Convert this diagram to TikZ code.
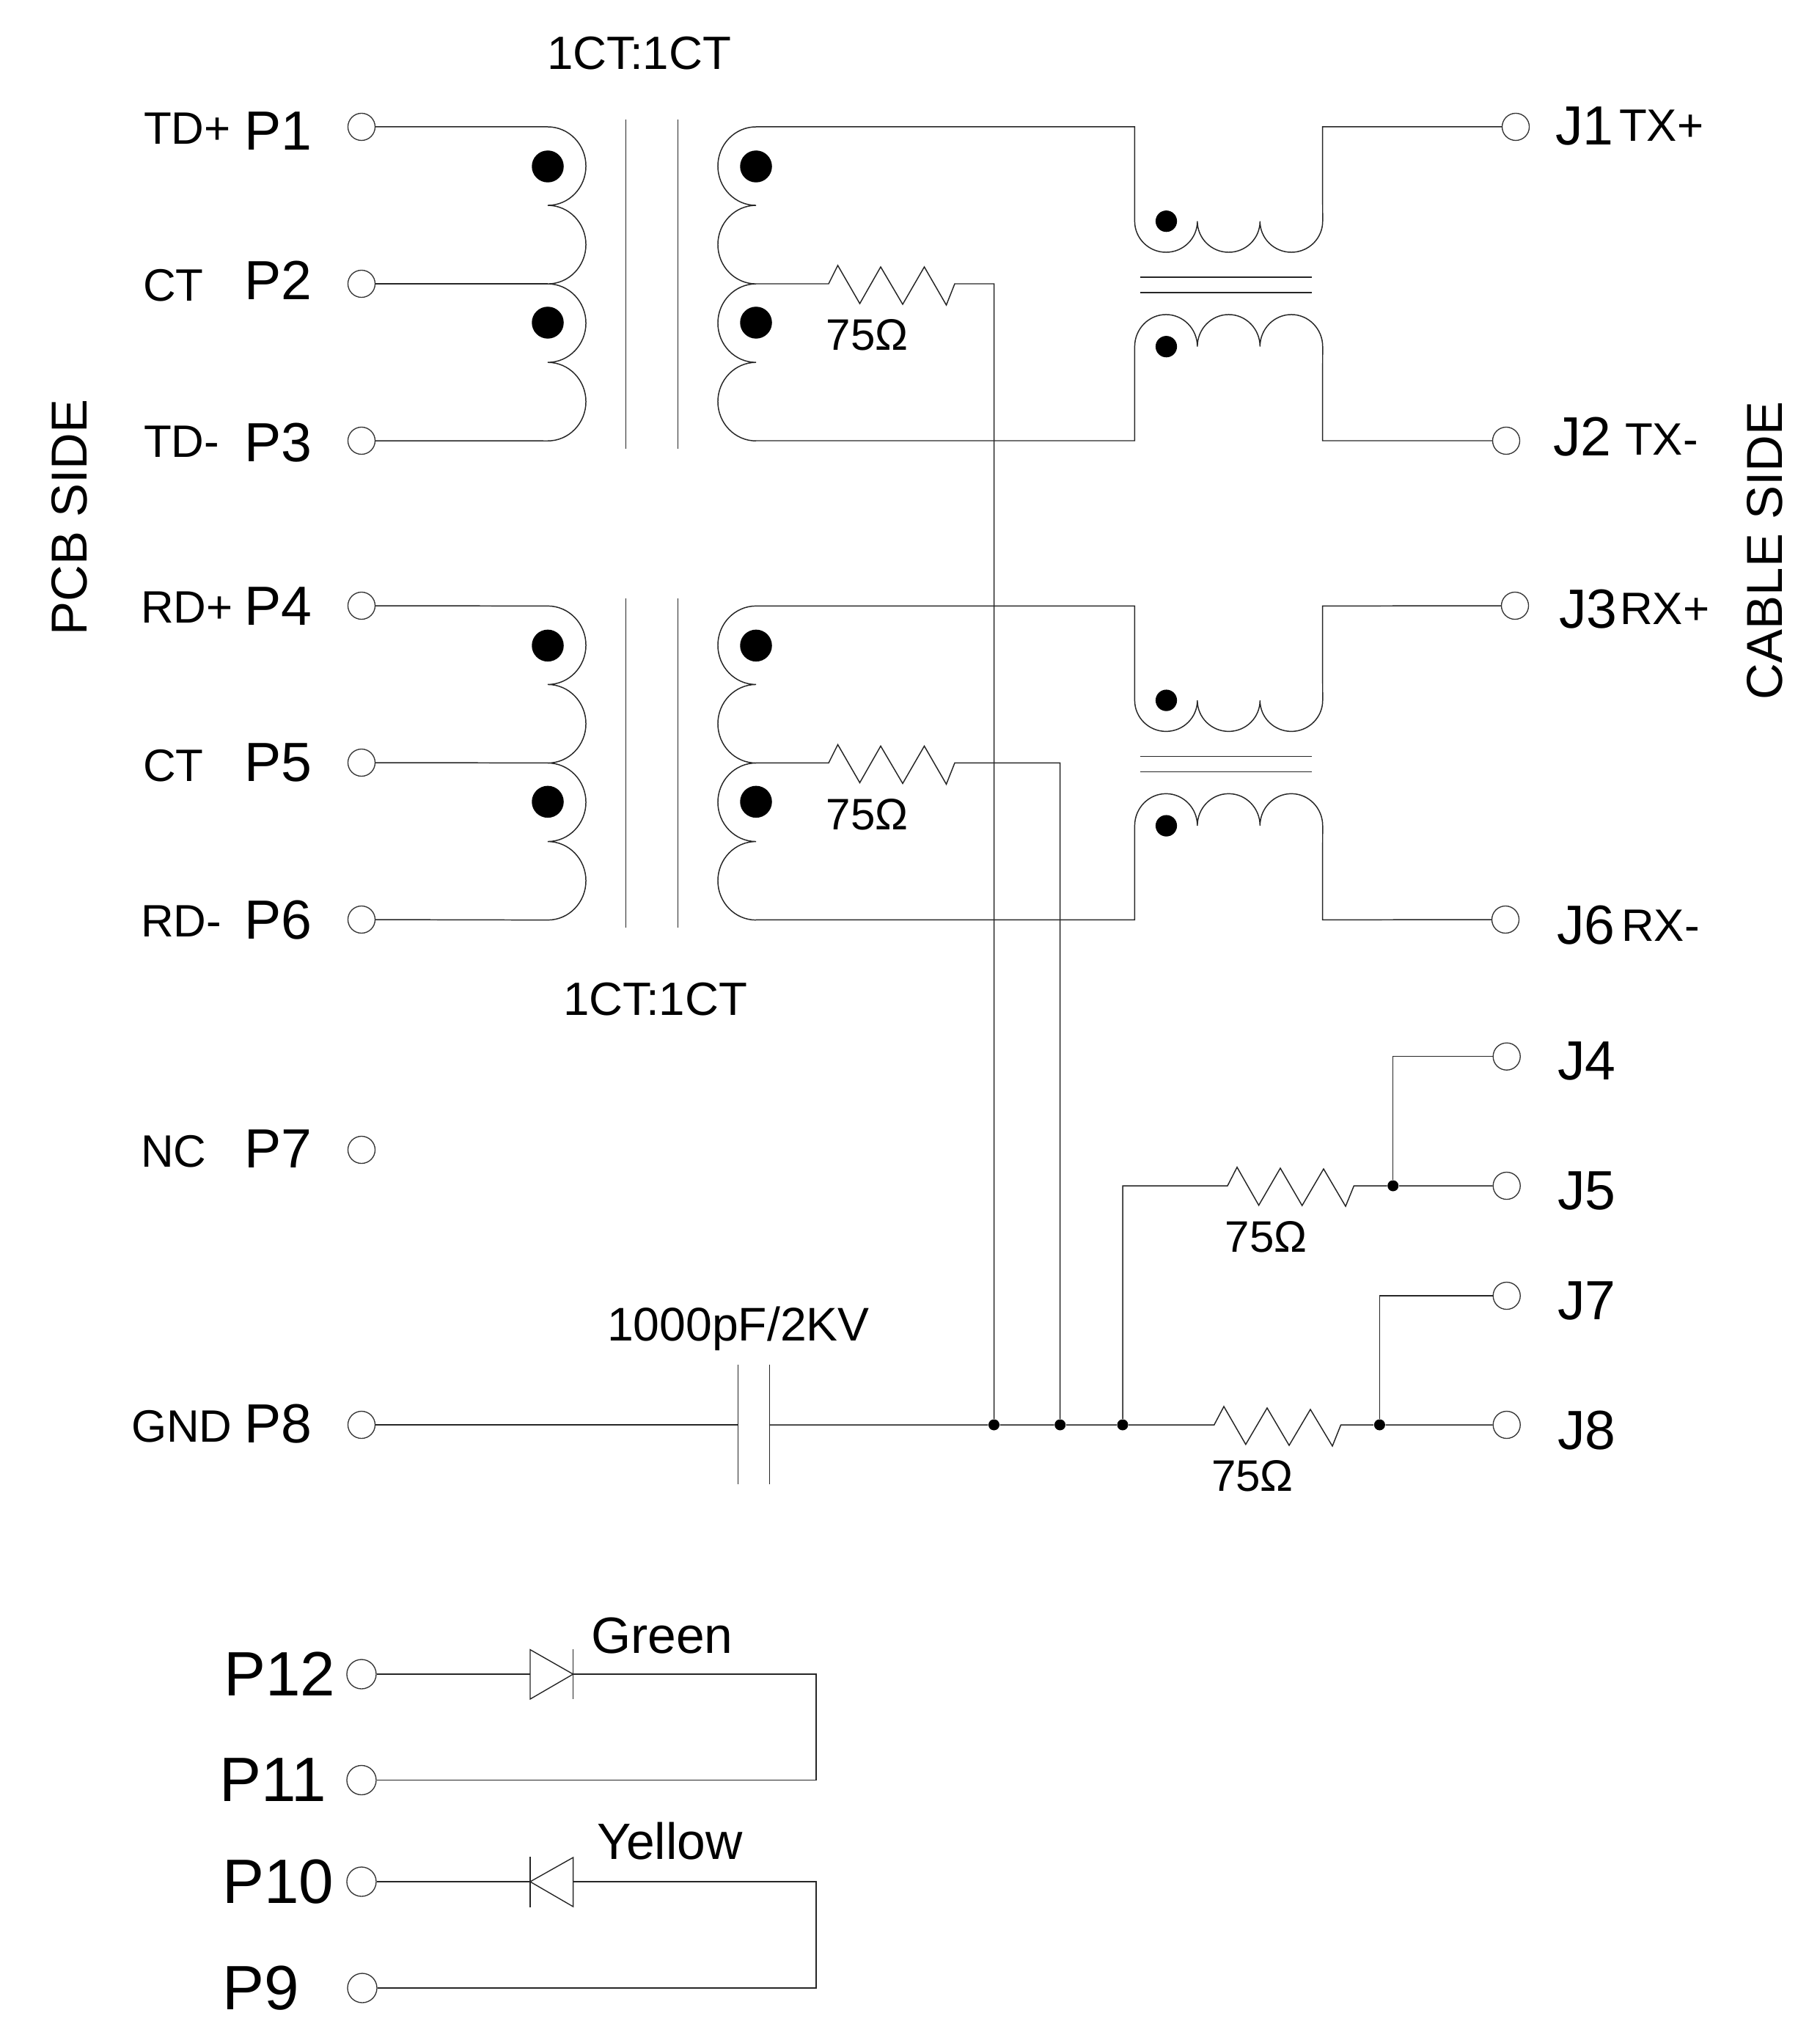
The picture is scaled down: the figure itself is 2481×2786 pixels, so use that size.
\documentclass[tikz,border=0pt]{standalone}
\usepackage{fontspec}
\setmainfont{Liberation Sans}
\tikzset{
  wire/.style={line width=0.42pt,black!85,line join=miter},
  thinline/.style={line width=0.4pt,black!85},
  term/.style={draw=black!80,circle,line width=0.38pt,inner sep=0pt,minimum size=0.37cm,fill=white},
  termb/.style={term,minimum size=0.40cm},
  junc/.style={circle,fill=black,inner sep=0pt,minimum size=0.15cm},
  coredot/.style={circle,fill=black,inner sep=0pt,minimum size=0.435cm},
  chokedot/.style={circle,fill=black,inner sep=0pt,minimum size=0.292cm},
  txt/.style={inner sep=0pt,outer sep=0pt,anchor=base west,text=black},
  lab/.style={txt,font=\fontsize{17.6pt}{20pt}\selectfont},
  xf/.style={txt,font=\fontsize{18.1pt}{21pt}\selectfont},
  pin/.style={txt,font=\fontsize{21.4pt}{24pt}\selectfont},
  bigpin/.style={txt,font=\fontsize{24.3pt}{28pt}\selectfont},
  val/.style={txt,anchor=base,font=\fontsize{17.1pt}{19pt}\selectfont},
  capval/.style={txt,font=\fontsize{18.3pt}{21pt}\selectfont},
  led/.style={txt,font=\fontsize{19.8pt}{22pt}\selectfont},
  side/.style={txt,rotate=90,font=\fontsize{19.6pt}{22pt}\selectfont},
}
% #1 prefix, #2 yshift, #3 #4 #5 primary terminals, #6 #7 cable terminals, #8 junction
\newcommand{\magblock}[8]{%
\begin{scope}[yshift=#2]
  \coordinate (#1la) at (746,173);
  \coordinate (#1lc) at (746,387);
  \coordinate (#1lb) at (746,601);
  \coordinate (#1ra) at (1030,173);
  \coordinate (#1rc) at (1030,387);
  \coordinate (#1rb) at (1030,601);
  \coordinate (#1ua) at (1546.4,173);
  \coordinate (#1us) at (1546.4,301.7);
  \coordinate (#1ue) at (1802.5,301.7);
  \coordinate (#1uf) at (1802.5,173);
  \coordinate (#1da) at (1546.4,601);
  \coordinate (#1ds) at (1546.4,472.7);
  \coordinate (#1de) at (1802.5,472.7);
  \coordinate (#1df) at (1802.5,601);
  % primary winding
  \draw[wire] (#3) -- (#1la)
    arc[start angle=90,end angle=-90,x radius=0.52cm,y radius=0.535cm]
    arc[start angle=90,end angle=-90,x radius=0.52cm,y radius=0.535cm]
    arc[start angle=90,end angle=-90,x radius=0.52cm,y radius=0.535cm]
    arc[start angle=90,end angle=-90,x radius=0.52cm,y radius=0.535cm]
    -- (#5);
  \draw[wire] (#4) -- (#1lc);
  % core
  \draw[thinline] (852.6,163) -- (852.6,612);
  \draw[thinline] (923.4,163) -- (923.4,612);
  % secondary winding
  \draw[wire] (#1ra)
    arc[start angle=90,end angle=270,x radius=0.52cm,y radius=0.535cm]
    arc[start angle=90,end angle=270,x radius=0.52cm,y radius=0.535cm]
    arc[start angle=90,end angle=270,x radius=0.52cm,y radius=0.535cm]
    arc[start angle=90,end angle=270,x radius=0.52cm,y radius=0.535cm];
  % choke
  \draw[wire] (#1ra) -- (#1ua) -- (#1us)
    arc[start angle=180,end angle=360,x radius=0.427cm,y radius=0.423cm]
    arc[start angle=180,end angle=360,x radius=0.427cm,y radius=0.423cm]
    arc[start angle=180,end angle=360,x radius=0.427cm,y radius=0.423cm]
    -- (#1uf) -- (#6);
  \draw[wire] (#1rb) -- (#1da) -- (#1ds)
    arc[start angle=180,end angle=0,x radius=0.427cm,y radius=0.437cm]
    arc[start angle=180,end angle=0,x radius=0.427cm,y radius=0.437cm]
    arc[start angle=180,end angle=0,x radius=0.427cm,y radius=0.437cm]
    -- (#1df) -- (#7);
  \draw[wire] (1554,378) -- (1788,378);
  \draw[wire] (1554,399) -- (1788,399);
  % dots
  \node[coredot] (#1d1) at (746,227) {};
  \node[coredot] (#1d2) at (746,440) {};
  \node[coredot] (#1d3) at (1030,227) {};
  \node[coredot] (#1d4) at (1030,440) {};
  \node[chokedot] (#1d5) at (1589.5,301.7) {};
  \node[chokedot] (#1d6) at (1589.5,472.7) {};
  % centre tap resistor
  \draw[wire] (#1rc) -- (1129,387) -- (1141.5,362) -- (1171.5,414) -- (1200,364)
    -- (1230,415) -- (1259.5,364) -- (1289.5,416) -- (1301,387) -| (#8);
  \node[val] (#1rv) at (1181.5,478) {75Ω};
\end{scope}}
\begin{document}
\begin{tikzpicture}[x=0.01cm,y=-0.01cm]
\useasboundingbox (-1,0) rectangle (2480,2786);
% terminals
\node[term] (P1) at (492,173) {};
\node[term] (P2) at (492,387) {};
\node[term] (P3) at (492,601) {};
\node[term] (P4) at (492,826) {};
\node[term] (P5) at (492,1040) {};
\node[term] (P6) at (492,1254) {};
\node[term] (P7) at (492,1568) {};
\node[term] (P8) at (492,1943) {};
\node[termb] (P12) at (492,2283) {};
\node[termb] (P11) at (492,2427.5) {};
\node[termb] (P10) at (492,2566) {};
\node[termb] (P9) at (493,2711) {};
\node[term] (J1) at (2066,173) {};
\node[term] (J2) at (2053,601) {};
\node[term] (J3) at (2065,826) {};
\node[term] (J6) at (2052,1254) {};
\node[term] (J4) at (2053.7,1440.7) {};
\node[term] (J5) at (2053.7,1617) {};
\node[term] (J7) at (2053.7,1767) {};
\node[term] (J8) at (2053.7,1943) {};
% junctions
\node[junc] (JA) at (1354.5,1943) {};
\node[junc] (JB) at (1444.7,1943) {};
\node[junc] (JC) at (1530,1943) {};
\node[junc] (JD) at (1880.4,1943) {};
\node[junc] (JE) at (1898.7,1617) {};
% magnetics
\magblock{a}{0cm}{P1}{P2}{P3}{J1}{J2}{JA}
\magblock{b}{-6.53cm}{P4}{P5}{P6}{J3}{J6}{JB}
% capacitor and ground rail
\coordinate (cl) at (1005.7,1943);
\coordinate (cr) at (1048.6,1943);
\draw[wire] (P8) -- (cl);
\draw[wire] (1005.7,1861) -- (1005.7,2024);
\draw[wire] (1048.6,1861) -- (1048.6,2024);
\draw[wire] (cr) -- (JA) -- (JB) -- (JC) -- (1654.8,1943) -- (1668,1918) -- (1697.8,1969.7)
  -- (1727,1920) -- (1757,1971) -- (1786,1922) -- (1816,1972) -- (1827.6,1943) -- (JD) -- (J8);
\draw[wire] (JC) |- (1673,1617) -- (1686,1591.7) -- (1715.6,1643.6) -- (1745,1593)
  -- (1774.7,1644) -- (1804,1594) -- (1834,1645) -- (1845.4,1617) -- (JE) -- (J5);
\draw[wire] (JE) |- (J4);
\draw[wire] (JD) |- (J7);
% LEDs
\coordinate (ga) at (722,2283);
\coordinate (gb) at (780.6,2283);
\coordinate (gc) at (1112,2283);
\coordinate (gd) at (1112,2427.5);
\draw[wire] (P12) -- (ga);
\draw[thinline] (722,2249.6) -- (gb) -- (722,2317) -- cycle;
\draw[thinline] (780.6,2249) -- (780.6,2317);
\draw[wire] (gb) -- (gc) -- (gd) -- (P11);
\coordinate (ya) at (722,2566);
\coordinate (yb) at (780.6,2566);
\coordinate (yc) at (1112,2566);
\coordinate (yd) at (1112,2711);
\draw[wire] (P10) -- (ya);
\draw[thinline] (780.6,2533) -- (ya) -- (780.6,2600) -- cycle;
\draw[wire] (722,2532) -- (722,2600.7);
\draw[wire] (yb) -- (yc) -- (yd) -- (P9);
% labels
\node[xf] (t1) at (745,95) {1CT:1CT};
\node[xf] (t2) at (767,1384) {1CT:1CT};
\node[lab] (l1) at (195,197) {TD+};
\node[lab] (l2) at (194,411) {CT};
\node[lab] (l3) at (195,623.5) {TD-};
\node[lab] (l4) at (191,850) {RD+};
\node[lab] (l5) at (194,1065) {CT};
\node[lab] (l6) at (191,1277.5) {RD-};
\node[lab] (l7) at (191,1591.5) {NC};
\node[lab] (l8) at (178,1966.5) {GND};
\node[pin] (n1) at (332,205) {P1};
\node[pin] (n2) at (332,409) {P2};
\node[pin] (n3) at (332,629.4) {P3};
\node[pin] (n4) at (332,852.5) {P4};
\node[pin] (n5) at (332,1065.5) {P5};
\node[pin] (n6) at (332,1280.5) {P6};
\node[pin] (n7) at (332,1592.5) {P7};
\node[pin] (n8) at (332,1967.5) {P8};
\node[bigpin] (n12) at (304,2312.5) {P12};
\node[bigpin] (n11) at (298,2456) {P11};
\node[bigpin] (n10) at (302,2595) {P10};
\node[bigpin] (n9) at (302,2740) {P9};
\node[pin] (m1) at (2120,197.5) {J1};
\node[pin] (m2) at (2117,622) {J2};
\node[pin] (m3) at (2125,856.7) {J3};
\node[pin] (m4) at (2123,1472.5) {J4};
\node[pin] (m5) at (2123,1649) {J5};
\node[pin] (m6) at (2122,1287.5) {J6};
\node[pin] (m7) at (2123,1799) {J7};
\node[pin] (m8) at (2123,1976) {J8};
\node[lab] (k1) at (2207,192.4) {TX+};
\node[lab] (k2) at (2215,620.5) {TX-};
\node[lab] (k3) at (2208,852) {RX+};
\node[lab] (k4) at (2210,1283) {RX-};
\node[val] (v1) at (1725.5,1707.5) {75Ω};
\node[val] (v2) at (1707,2033.6) {75Ω};
\node[capval] (cv) at (827,1828) {1000pF/2KV};
\node[led] (gt) at (805,2254) {Green};
\node[led] (yt) at (813,2535) {Yellow};
\node[side] (s1) at (117,866) {PCB SIDE};
\node[side] (s2) at (2429,954) {CABLE SIDE};
\end{tikzpicture}
\end{document}
